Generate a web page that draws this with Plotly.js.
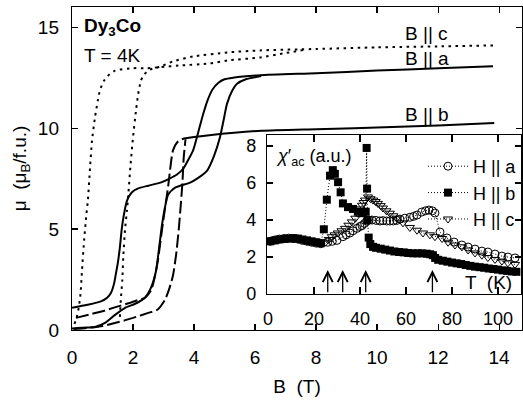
<!DOCTYPE html>
<html>
<head>
<meta charset="utf-8">
<script src="https://cdn.plot.ly/plotly-3.0.1.min.js"></script>
<style>html,body{margin:0;padding:0;background:#fff;}#chart{width:523px;height:403px;}</style>
</head>
<body>
<div id="chart"></div>
<script>
// ---- Main panel: magnetisation curves at T = 4 K (B in T, mu in muB/f.u.) ----
// B || c (dotted), two branches of the loop
const Bc1 = [0.08,0.15,0.22,0.28,0.33,0.40,0.47,0.52,0.59,0.65,0.75,0.85,0.92,1.05,1.15,1.41,2.0,2.46,2.9,3.5,4.5,5.1,6.16,7.0,7.6];
const Mc1 = [0.3,0.6,1.1,1.8,3.0,4.5,5.7,6.4,8.0,9.3,10.5,11.4,11.9,12.35,12.55,12.85,12.97,12.97,13.02,13.1,13.2,13.35,13.5,13.72,13.87];
const Bc2 = [1.57,1.60,1.65,1.68,1.74,1.80,1.85,1.92,2.0,2.1,2.17,2.25,2.33,2.56,2.9,3.3,3.97,5.1,6.16,8.0,10.0,12.0,13.84];
const Mc2 = [0.65,1.5,2.5,3.6,5.0,5.9,6.8,8.2,9.55,10.9,11.7,12.3,12.6,12.9,13.05,13.3,13.55,13.75,13.85,13.92,14.0,14.05,14.1];
// B || a (solid), two branches
const Ba1 = [0,0.5,0.95,1.15,1.28,1.38,1.44,1.50,1.57,1.63,1.70,1.80,1.95,2.15,2.5,2.9,3.2,3.44,3.65,3.8,3.97,4.13,4.3,4.45,4.6,4.8,5.0,5.28,6.16,8.0,10.0,12.0,13.8];
const Ma1 = [1.1,1.25,1.42,1.6,1.85,2.3,2.8,3.3,4.1,5.0,5.7,6.4,6.8,7.0,7.15,7.3,7.5,7.7,8.0,8.4,8.9,9.75,10.7,11.4,11.9,12.25,12.42,12.5,12.62,12.72,12.85,12.96,13.07];
const Ba2 = [0,0.5,0.75,1.08,1.41,1.74,2.07,2.39,2.59,2.75,2.85,2.95,3.05,3.15,3.38,3.87,4.1,4.43,4.65,4.85,4.97,5.08,5.25,5.41,5.7,6.2];
const Ma2 = [0.08,0.12,0.15,0.35,0.75,1.1,1.3,1.6,2.1,2.9,4.0,5.2,6.1,6.7,7.05,7.3,7.5,7.9,8.6,9.55,10.4,11.2,11.85,12.2,12.42,12.58];
// B || b (dashed branches + high-field part)
const Bb1 = [0.13,0.6,1.0,1.4,1.8,2.1,2.39,2.6,2.75,2.82,2.98,3.15,3.31,3.45,3.6];
const Mb1 = [0.6,0.78,0.93,1.12,1.3,1.45,1.6,2.0,2.9,3.5,5.3,7.1,8.9,9.3,9.45];
const Bb2 = [0.05,0.5,1.0,1.5,2.0,2.5,2.8,3.05,3.2,3.31,3.41,3.5,3.57,3.62,3.66,3.72];
const Mb2 = [0.05,0.1,0.2,0.38,0.6,0.85,1.0,1.5,2.1,2.7,3.7,5.0,6.3,7.3,8.5,9.45];
const Bb3 = [3.6,3.72,4.5,6.2,8.0,10.5,12.0,13.84];
const Mb3 = [9.45,9.5,9.65,9.87,9.95,10.05,10.13,10.25];

// ---- Inset: ac susceptibility vs T (K) ----
const Ta = [1,3,5,7,9,11,13,15,17,19,21,23,26,28,30,32.6,34,35.6,37,38.7,40,40.9,42,43,44,45.2,47,48.7,50,51.6,53,54.5,56,57.4,59.5,61.7,63.3,64.8,66.8,68.5,70,71.5,72.6,74.8,77.8,80.9,84.3,87,90,93,95.6,98.7,101.7,104.3,107.4];
const Xa = [2.85,2.92,2.97,3.0,3.02,3.0,2.97,2.9,2.85,2.8,2.75,2.72,2.8,2.85,2.9,3.1,3.2,3.3,3.42,3.55,3.65,3.7,3.82,3.95,4.0,4.0,3.98,3.95,3.97,3.95,3.95,3.95,3.98,4.05,4.1,4.15,4.2,4.27,4.43,4.5,4.54,4.5,4.38,3.35,3.03,2.81,2.65,2.54,2.43,2.32,2.27,2.16,2.05,2.0,1.95];
const Tb = [1,3,5,7,9,11,13,15,17,19,21,23,24.3,25.6,27,28.2,29.1,30.5,31.6,32.6,34.8,37,39.1,41.3,42.5,42.9,43.1,43.3,43.8,44.5,45.7,47,49,51,53,55,57,59,61,63,65,67,69,70.5,71.7,72.7,74,76,78,80,82,84,86,88,90,92,94,96,98,100,102,104,106,108];
const Xb = [2.85,2.9,2.95,2.98,3.0,3.02,3.0,2.95,2.9,2.85,2.8,2.75,3.5,5.1,6.4,6.7,6.5,6.05,5.5,4.9,4.7,4.6,4.45,4.37,4.45,7.9,5.7,4.0,3.05,2.7,2.55,2.5,2.45,2.4,2.35,2.3,2.27,2.25,2.22,2.2,2.2,2.2,2.18,2.15,2.1,1.95,1.85,1.8,1.75,1.7,1.66,1.62,1.57,1.52,1.48,1.45,1.42,1.38,1.35,1.32,1.28,1.25,1.22,1.2];
const Tc = [1,3,5,7,9,11,13,15,17,19,21,23,25,26.5,27.8,29,30.4,32,33.5,35,36.5,38,39.1,40.1,40.9,41.6,42.2,43.5,44.6,45.7,46.8,47.8,49,50,51.5,53,54.5,56,58.7,61.7,64.8,67.4,70.4,72.6,75.7,78.3,81.3,84.3,87,90,93,95.6,98.7,101.7,104.3,107.4];
const Xc = [2.88,2.93,2.98,3.0,3.02,3.0,2.97,2.92,2.87,2.82,2.78,2.75,2.8,2.95,3.1,3.2,3.3,3.42,3.55,3.72,3.9,4.1,4.37,4.6,4.8,4.95,5.08,5.25,5.15,5.08,5.0,4.9,4.78,4.65,4.5,4.37,4.23,4.1,3.85,3.6,3.45,3.3,3.2,3.1,3.0,2.8,2.65,2.55,2.38,2.22,2.1,1.97,1.87,1.78,1.68,1.6];
const arrowT = [26, 32.5, 42.5, 71.5];

// ---- tick labels ----
const mainXTicks = [0,2,4,6,8,10,12,14];
const mainYTicks = [0,5,10,15];
const insetXTicks = [0,20,40,60,80,100];
const insetYTicks = [0,2,4,6,8];

const FONT = 'Arial, "Liberation Sans", sans-serif';
const K = '#000';

function mainLine(x, y, dash) {
  return {x: x, y: y, xaxis: 'x', yaxis: 'y', mode: 'lines', showlegend: false, hoverinfo: 'skip',
          line: {color: K, width: 2, dash: dash, shape: 'spline', smoothing: 0.6}};
}
const traces = [
  mainLine(Bc1, Mc1, '2.5px,4.5px'),
  mainLine(Bc2, Mc2, '2.5px,4.5px'),
  mainLine(Ba1, Ma1, 'solid'),
  mainLine(Ba2, Ma2, 'solid'),
  mainLine(Bb1, Mb1, '13px,4px'),
  mainLine(Bb2, Mb2, '13px,4px'),
  mainLine(Bb3, Mb3, 'solid'),
  {x: Ta, y: Xa, xaxis: 'x2', yaxis: 'y2', mode: 'lines+markers', name: 'H || a',
   line: {color: K, width: 1, dash: '1px,2px'},
   marker: {symbol: 'circle-open', size: 8, color: K, line: {width: 1, color: K}}},
  {x: Tb, y: Xb, xaxis: 'x2', yaxis: 'y2', mode: 'lines+markers', name: 'H || b',
   line: {color: K, width: 1, dash: '1px,2px'},
   marker: {symbol: 'square', size: 8, color: K, line: {width: 0}}},
  {x: Tc, y: Xc, xaxis: 'x2', yaxis: 'y2', mode: 'lines+markers', name: 'H || c',
   line: {color: K, width: 1, dash: '1px,2px'},
   marker: {symbol: 'triangle-down-open', size: 8, color: K, line: {width: 1, color: K}}}
];

// pixel -> paper helpers (plot area: x 72..522, y 7..330)
const px = v => (v - 72) / 450;
const py = v => (330 - v) / 323;

const annotations = [
  {text: '<b>Dy<sub>3</sub>Co</b>', x: px(82), y: py(27), xanchor: 'left', yanchor: 'middle', font: {size: 19}},
  {text: 'T = 4K', x: px(82), y: py(55), xanchor: 'left', yanchor: 'middle', font: {size: 19}},
  {text: 'B || c', x: px(403), y: py(33), xanchor: 'left', yanchor: 'middle', font: {size: 19}},
  {text: 'B || a', x: px(403), y: py(58), xanchor: 'left', yanchor: 'middle', font: {size: 19}},
  {text: 'B || b', x: px(403), y: py(115), xanchor: 'left', yanchor: 'middle', font: {size: 19}},
  {text: '<i>χ</i>′<sub>ac</sub> (a.u.)', x: px(274), y: py(157), xanchor: 'left', yanchor: 'middle', font: {size: 18}},
  {text: 'T  (K)', x: px(488), y: py(282), xanchor: 'center', yanchor: 'middle', font: {size: 19}}
].map(a => Object.assign({xref: 'paper', yref: 'paper', showarrow: false}, a));

arrowT.forEach(t => annotations.push({
  xref: 'x2', yref: 'y2', axref: 'x2', ayref: 'y2', x: t, y: 1.3, ax: t, ay: 0.02,
  showarrow: true, arrowhead: 5, arrowsize: 1.5, arrowwidth: 1.3, arrowcolor: K, text: ''
}));

const axBase = {showgrid: false, zeroline: false, showline: true, linecolor: K, linewidth: 1.2,
                ticks: 'inside', tickcolor: K, tickwidth: 1.2, mirror: 'ticks'};

const layout = {
  width: 523, height: 403,
  margin: {l: 72, r: 1, t: 7, b: 73, pad: 0},
  paper_bgcolor: '#fff', plot_bgcolor: '#fff',
  font: {family: FONT, color: K},
  showlegend: true,
  legend: {x: px(423), y: py(148), xanchor: 'left', yanchor: 'top', bgcolor: 'rgba(0,0,0,0)',
           font: {size: 18}, itemwidth: 40, tracegroupgap: 0},
  xaxis: Object.assign({}, axBase, {domain: [0, 1], range: [0, 14.75], tickvals: mainXTicks,
          ticklen: 6, tickfont: {size: 19}, ticklabelstandoff: 10,
          title: {text: 'B  (T)', font: {size: 19}, standoff: 12}, anchor: 'y'}),
  yaxis: Object.assign({}, axBase, {domain: [0, 1], range: [0, 16], tickvals: mainYTicks,
          ticklen: 6, tickfont: {size: 19}, ticklabelstandoff: 8,
          title: {text: 'μ  (μ<sub>B</sub>/f.u.)', font: {size: 19}, standoff: 6}, anchor: 'x'}),
  xaxis2: Object.assign({}, axBase, {domain: [px(267), px(521)], range: [-0.4, 110], tickvals: insetXTicks,
          ticklen: 7, tickfont: {size: 18}, ticklabelstandoff: 8, anchor: 'y2'}),
  yaxis2: Object.assign({}, axBase, {domain: [py(294), py(135)], range: [0, 8.6], tickvals: insetYTicks,
          ticklen: 6, tickfont: {size: 18}, ticklabelstandoff: 6, anchor: 'x2'}),
  annotations: annotations
};

Plotly.newPlot('chart', traces, layout, {staticPlot: true, displayModeBar: false});
</script>
</body>
</html>
